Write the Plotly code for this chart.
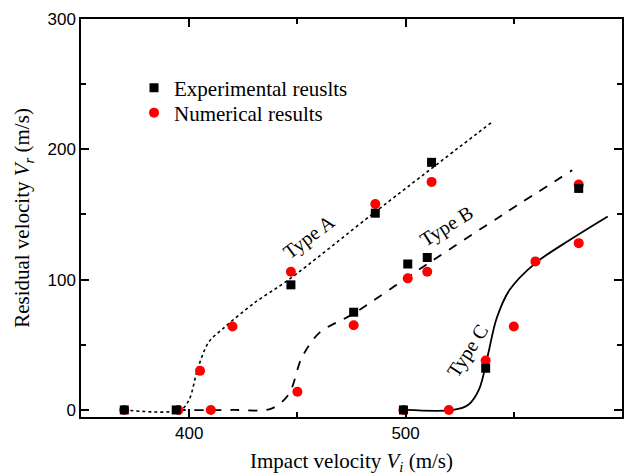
import plotly.graph_objects as go

# Experimental results (black squares)
exp_x = [370, 394, 447, 476, 486, 499, 501, 510, 512, 537, 580]
exp_y = [0, 0, 96, 75, 151, 0, 112, 117, 190, 32, 170]

# Numerical results (red circles)
num_x = [370, 395, 405, 410, 420, 447, 450, 476, 486, 499, 501, 510, 512, 520, 537, 550, 560, 580, 580]
num_y = [0, 0, 30, 0, 64, 106, 14, 65, 158, 0, 101, 106, 175, 0, 38, 64, 114, 128, 173]

# Fitted curves (control points)
typeA_x = [370, 396, 400, 404, 409, 416, 430, 446, 486, 540]
typeA_y = [0, 0, 8, 32, 52, 63, 82, 100, 152, 221]

typeB_x = [394, 420, 438, 446, 452, 460, 476, 510, 545, 577]
typeB_y = [0, 0, 1, 12, 40, 59, 74, 112, 150, 184]

typeC_x = [500, 522, 529, 534, 538, 542, 548, 560, 576, 593.4]
typeC_y = [0, 0, 4, 16, 42, 70, 92, 112.7, 130.6, 148.5]

labels = ["Type A", "Type B", "Type C"]
label_x = [455.7, 518.9, 529.0]
label_y = [132.9, 140.5, 45.3]
label_angle = [-37, -32, -57]

serif = "Liberation Serif, Times New Roman, serif"
sans = "Liberation Sans, Arial, sans-serif"

fig = go.Figure()
fig.add_trace(go.Scatter(x=typeA_x, y=typeA_y, mode="lines", showlegend=False,
                         line=dict(color="black", width=1.6, dash="dot", shape="spline", smoothing=0.9)))
fig.add_trace(go.Scatter(x=typeB_x, y=typeB_y, mode="lines", showlegend=False,
                         line=dict(color="black", width=1.8, dash="dash", shape="spline", smoothing=0.9)))
fig.add_trace(go.Scatter(x=typeC_x, y=typeC_y, mode="lines", showlegend=False,
                         line=dict(color="black", width=1.8, shape="spline", smoothing=0.9)))
fig.add_trace(go.Scatter(x=num_x, y=num_y, mode="markers", name="Numerical results", legend="legend2",
                         marker=dict(symbol="circle", size=10, color="#ff0000")))
fig.add_trace(go.Scatter(x=exp_x, y=exp_y, mode="markers", name="Experimental reuslts", legend="legend",
                         marker=dict(symbol="square", size=9, color="black")))

for t, x, y, a in zip(labels, label_x, label_y, label_angle):
    fig.add_annotation(x=x, y=y, text=t, textangle=a, showarrow=False,
                       font=dict(family=serif, size=20, color="black"))

axis_common = dict(showline=True, linecolor="black", linewidth=1.5, mirror="ticks",
                   ticks="inside", ticklen=8, tickwidth=1.5, tickcolor="black",
                   showgrid=False, zeroline=False, automargin=False,
                   tickfont=dict(family=sans, size=17, color="black"))

fig.update_xaxes(range=[350, 600], dtick=100, tick0=0,
                 minor=dict(ticks="inside", ticklen=5, tickwidth=1.5, tickcolor="black", dtick=50, tick0=0),
                 title=dict(text="Impact velocity <i>V</i><sub><i>i</i></sub> (m/s)",
                            font=dict(family=serif, size=21, color="black"), standoff=11),
                 **axis_common)
fig.update_yaxes(range=[-5.4, 300], dtick=100, tick0=0,
                 minor=dict(ticks="inside", ticklen=5, tickwidth=1.5, tickcolor="black", dtick=50, tick0=0),
                 title=dict(text="Residual velocity <i>V</i><sub><i>r</i></sub> (m/s)",
                            font=dict(family=serif, size=21, color="black"), standoff=12),
                 **axis_common)

leg_common = dict(xanchor="left", yanchor="middle",
                  font=dict(family=serif, size=21, color="black"),
                  bgcolor="rgba(0,0,0,0)")

fig.update_layout(
    width=635, height=476,
    margin=dict(l=81, r=13, t=19, b=59),
    plot_bgcolor="white", paper_bgcolor="white",
    legend=dict(x=0.098, y=0.8266, **leg_common),
    legend2=dict(x=0.098, y=0.7638, **leg_common),
)

fig.write_html("out.html")
